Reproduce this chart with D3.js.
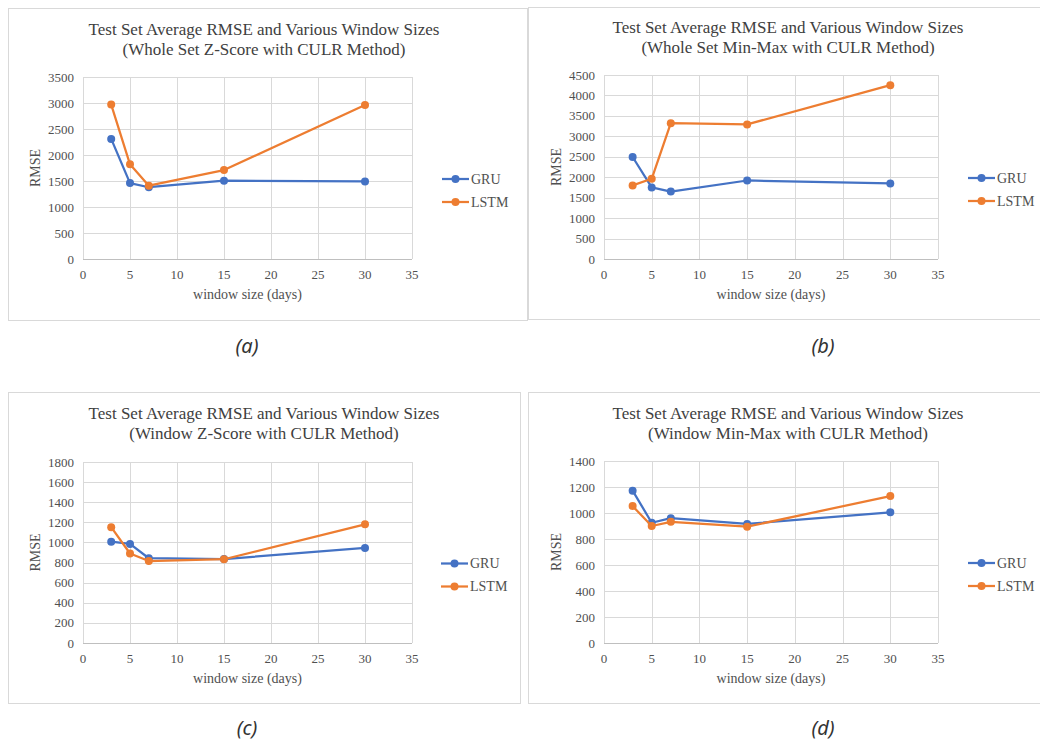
<!DOCTYPE html>
<html><head><meta charset="utf-8">
<script src="https://cdn.jsdelivr.net/npm/d3@7"></script>
<style>body{margin:0;background:#fff}svg{display:block}</style>
</head><body>
<svg id="c" width="1040" height="742"></svg>
<script>
// ---- data ----
const windowSizes = [3, 5, 7, 15, 30];
const xTicks = [0, 5, 10, 15, 20, 25, 30, 35];
const seriesNames = ["GRU", "LSTM"];
const titleLine1 = "Test Set Average RMSE and Various Window Sizes";
const subtitles = ["(Whole Set Z-Score with CULR Method)", "(Whole Set Min-Max with CULR Method)",
                   "(Window Z-Score with CULR Method)", "(Window Min-Max with CULR Method)"];
const captions = ["(a)", "(b)", "(c)", "(d)"];
const gruA  = [2310, 1460, 1380, 1505, 1492];
const lstmA = [2970, 1820, 1410, 1710, 2960];
const gruB  = [2495, 1750, 1648, 1920, 1848];
const lstmB = [1800, 1962, 3322, 3292, 4252];
const gruC  = [1008, 985, 843, 835, 945];
const lstmC = [1152, 890, 815, 833, 1180];
const gruD  = [1172, 925, 960, 916, 1005];
const lstmD = [1053, 900, 932, 895, 1130];
const yTicksA = [0, 500, 1000, 1500, 2000, 2500, 3000, 3500];
const yTicksB = [0, 500, 1000, 1500, 2000, 2500, 3000, 3500, 4000, 4500];
const yTicksC = [0, 200, 400, 600, 800, 1000, 1200, 1400, 1600, 1800];
const yTicksD = [0, 200, 400, 600, 800, 1000, 1200, 1400];

const colors = {GRU: "#4472C4", LSTM: "#ED7D31"};
const panels = [
  {gru: gruA, lstm: lstmA, yTicks: yTicksA, sub: subtitles[0], cap: captions[0],
   box: [8, 8, 519, 312], plot: [83, 77, 412, 259], titleX: 264, titleY: 35, legX: 442, capX: 247, capY: 353},
  {gru: gruB, lstm: lstmB, yTicks: yTicksB, sub: subtitles[1], cap: captions[1],
   box: [528, 7, 520, 312], plot: [604, 75, 938, 259], titleX: 788, titleY: 33, legX: 968, capX: 823, capY: 353},
  {gru: gruC, lstm: lstmC, yTicks: yTicksC, sub: subtitles[2], cap: captions[2],
   box: [8, 392, 512, 311], plot: [83, 462, 412, 643], titleX: 264, titleY: 419, legX: 441, capX: 247, capY: 735},
  {gru: gruD, lstm: lstmD, yTicks: yTicksD, sub: subtitles[3], cap: captions[3],
   box: [528, 392, 520, 311], plot: [604, 461, 938, 643], titleX: 788, titleY: 419, legX: 968, capX: 823, capY: 735}
];

const svg = d3.select("#c");
const serif = "'Liberation Serif','Times New Roman',serif";

panels.forEach(p => {
  const g = svg.append("g");
  g.append("rect").attr("x", p.box[0] + 0.5).attr("y", p.box[1] + 0.5)
    .attr("width", p.box[2]).attr("height", p.box[3])
    .attr("fill", "#fff").attr("stroke", "#d9d9d9").attr("stroke-width", 1);

  const [l, t, r, b] = p.plot;
  const x = d3.scaleLinear().domain([0, 35]).range([l, r]);
  const y = d3.scaleLinear().domain([0, d3.max(p.yTicks)]).range([b, t]);

  // gridlines
  g.append("g").selectAll("line").data(p.yTicks.slice(1)).join("line")
    .attr("x1", l).attr("x2", r).attr("y1", d => Math.round(y(d)) + 0.5).attr("y2", d => Math.round(y(d)) + 0.5)
    .attr("stroke", "#d9d9d9").attr("stroke-width", 1);
  g.append("g").selectAll("line").data(xTicks.slice(1)).join("line")
    .attr("y1", t).attr("y2", b).attr("x1", d => Math.round(x(d)) + 0.5).attr("x2", d => Math.round(x(d)) + 0.5)
    .attr("stroke", "#d9d9d9").attr("stroke-width", 1);
  // axes lines
  g.append("line").attr("x1", l).attr("x2", r).attr("y1", Math.round(b) + 0.5).attr("y2", Math.round(b) + 0.5)
    .attr("stroke", "#bfbfbf").attr("stroke-width", 1);
  g.append("line").attr("x1", Math.round(l) + 0.5).attr("x2", Math.round(l) + 0.5).attr("y1", t).attr("y2", b)
    .attr("stroke", "#d9d9d9").attr("stroke-width", 1);

  // tick labels
  g.append("g").selectAll("text").data(p.yTicks).join("text")
    .attr("x", l - 9).attr("y", d => y(d)).attr("dy", "0.35em").attr("text-anchor", "end")
    .attr("font-family", serif).attr("font-size", 13).attr("fill", "#505050").text(d => d);
  g.append("g").selectAll("text").data(xTicks).join("text")
    .attr("x", d => x(d)).attr("y", b + 20).attr("text-anchor", "middle")
    .attr("font-family", serif).attr("font-size", 13).attr("fill", "#505050").text(d => d);

  // axis titles
  g.append("text").attr("x", (l + r) / 2).attr("y", b + 40).attr("text-anchor", "middle")
    .attr("font-family", serif).attr("font-size", 14).attr("fill", "#505050").text("window size (days)");
  g.append("text").attr("transform", `translate(${l - 43},${(t + b) / 2}) rotate(-90)`)
    .attr("text-anchor", "middle").attr("font-family", serif).attr("font-size", 14)
    .attr("fill", "#505050").text("RMSE");

  // titles
  g.append("text").attr("x", p.titleX).attr("y", p.titleY).attr("text-anchor", "middle")
    .attr("font-family", serif).attr("font-size", 17).attr("fill", "#404040").text(titleLine1);
  g.append("text").attr("x", p.titleX).attr("y", p.titleY + 20).attr("text-anchor", "middle")
    .attr("font-family", serif).attr("font-size", 17).attr("fill", "#404040").text(p.sub);

  // series
  const line = d3.line().x((d, i) => x(windowSizes[i])).y(d => y(d));
  [["GRU", p.gru], ["LSTM", p.lstm]].forEach(([name, vals]) => {
    g.append("path").datum(vals).attr("d", line).attr("fill", "none")
      .attr("stroke", colors[name]).attr("stroke-width", 2.25).attr("stroke-linejoin", "round");
    g.append("g").selectAll("circle").data(vals).join("circle")
      .attr("cx", (d, i) => x(windowSizes[i])).attr("cy", d => y(d)).attr("r", 4)
      .attr("fill", colors[name]);
  });

  // legend
  const ly0 = (t + b) / 2 + 11;
  seriesNames.forEach((name, i) => {
    const ly = ly0 + i * 23;
    g.append("line").attr("x1", p.legX).attr("x2", p.legX + 27).attr("y1", ly).attr("y2", ly)
      .attr("stroke", colors[name]).attr("stroke-width", 2.25);
    g.append("circle").attr("cx", p.legX + 13.5).attr("cy", ly).attr("r", 4).attr("fill", colors[name]);
    g.append("text").attr("x", p.legX + 29).attr("y", ly).attr("dy", "0.35em")
      .attr("font-family", serif).attr("font-size", 14).attr("fill", "#505050").text(name);
  });

  // caption
  svg.append("text").attr("x", p.capX).attr("y", p.capY).attr("text-anchor", "middle")
    .attr("font-family", "'Noto Sans','DejaVu Sans',sans-serif").attr("font-style", "italic")
    .attr("font-size", 20).attr("fill", "#333").text(p.cap);
});
</script>
</body></html>
